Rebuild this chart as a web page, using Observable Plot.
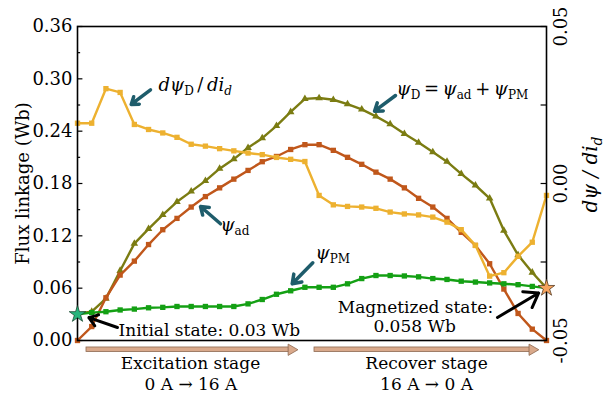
<!DOCTYPE html>
<html>
<head>
<meta charset="utf-8">
<script src="https://cdn.jsdelivr.net/npm/d3@7"></script>
<script src="https://cdn.jsdelivr.net/npm/@observablehq/plot@0.6"></script>
<style>
  html, body { margin: 0; padding: 0; background: white; }
</style>
</head>
<body>
<div id="chart"></div>
<script>
// Step index: excitation 0 A -> 16 A (steps 0..16), recovery 16 A -> 0 A (steps 17..33)
const current = [0,1,2,3,4,5,6,7,8,9,10,11,12,13,14,15,16,16,15,14,13,12,11,10,9,8,7,6,5,4,3,2,1,0];
const step = current.map((_, i) => i);

// Flux linkage (Wb), left axis
const psiD  = [0.031,0.033,0.048,0.080,0.111,0.128,0.144,0.159,0.171,0.183,0.197,0.208,0.221,0.232,0.246,0.262,0.277,0.278,0.276,0.271,0.265,0.257,0.248,0.237,0.227,0.216,0.205,0.191,0.178,0.163,0.126,0.098,0.078,0.060];
const psiAd = [0.000,0.016,0.049,0.075,0.091,0.110,0.127,0.140,0.153,0.165,0.175,0.185,0.195,0.205,0.211,0.219,0.2245,0.2245,0.218,0.210,0.202,0.193,0.185,0.175,0.163,0.153,0.140,0.124,0.109,0.088,0.059,0.031,0.013,0.000];
const psiPM = [0.030,0.032,0.033,0.035,0.036,0.0375,0.038,0.039,0.039,0.039,0.039,0.039,0.042,0.047,0.053,0.057,0.061,0.061,0.061,0.065,0.071,0.0745,0.0745,0.074,0.073,0.071,0.070,0.068,0.067,0.066,0.065,0.064,0.062,0.060];
// dψD/did, right axis
const dPsi  = [0.0192,0.0192,0.0302,0.0290,0.0188,0.0172,0.0161,0.0147,0.0125,0.0119,0.0111,0.0104,0.0097,0.0092,0.0083,0.0077,0.0070,-0.0038,-0.0068,-0.0073,-0.0075,-0.0079,-0.0091,-0.0097,-0.0100,-0.0107,-0.0123,-0.0147,-0.0197,-0.0295,-0.0284,-0.0232,-0.0187,-0.0038];

const leftTicks = [0, 0.06, 0.12, 0.18, 0.24, 0.30, 0.36];
const leftMinor = [0.03, 0.09, 0.15, 0.21, 0.27, 0.33];
const rightTicks = [-0.05, -0.025, 0, 0.025, 0.05];
const rightLabels = [-0.05, 0, 0.05];

const rightDomain = [-0.05, 0.05];
const leftDomain = [0, 0.36];
const toLeft = r => leftDomain[0] + (r - rightDomain[0]) / (rightDomain[1] - rightDomain[0]) * (leftDomain[1] - leftDomain[0]);

const colors = { D: "#7b7c12", ad: "#c0571b", PM: "#14a014", d: "#edb130" };
const teal = "#1e5c6b";
const serif = "DejaVu Serif";

const rows = step.map(i => ({ i, psiD: psiD[i], psiAd: psiAd[i], psiPM: psiPM[i], dPsi: toLeft(dPsi[i]) }));

// Annotations (data units)
const notesStart = [
  { x: 2.885, y: 0.0046, text: "Initial state: 0.03 Wb" }
];
const notesMid = [
  { x: 23.78, y: 0.0315, text: "Magnetized state:" },
  { x: 23.72, y: 0.0098, text: "0.058 Wb" }
];
const stageText = [
  { x: 7.95, y: -0.0327, text: "Excitation stage" },
  { x: 7.98, y: -0.0573, text: "0 A \u2192 16 A" },
  { x: 24.56, y: -0.0327, text: "Recover stage" },
  { x: 24.56, y: -0.0573, text: "16 A \u2192 0 A" }
];
const richLabels = [
  { x: 5.70, y: 0.2866, key: "R1" },
  { x: 22.45, y: 0.2809, key: "R2" },
  { x: 10.06, y: 0.125, key: "R3" },
  { x: 16.75, y: 0.094, key: "R4" }
];
const richHTML = {
  R1: '<tspan font-style="italic">dψ</tspan><tspan font-size="12" dy="4">D</tspan><tspan dy="-4">\u2009/\u2009</tspan><tspan font-style="italic">di</tspan><tspan font-style="italic" font-size="12" dy="4">d</tspan>',
  R2: '<tspan font-style="italic">ψ</tspan><tspan font-size="12" dy="4">D</tspan><tspan dy="-4">\u2009=\u2009</tspan><tspan font-style="italic">ψ</tspan><tspan font-size="12" dy="4">ad</tspan><tspan dy="-4">\u2009+\u2009</tspan><tspan font-style="italic">ψ</tspan><tspan font-size="12" dy="4">PM</tspan>',
  R3: '<tspan font-style="italic">ψ</tspan><tspan font-size="12" dy="4">ad</tspan>',
  R4: '<tspan font-style="italic">ψ</tspan><tspan font-size="12" dy="4">PM</tspan>',
  R5: '<tspan font-style="italic">dψ / di</tspan><tspan font-style="italic" font-size="14" dy="5">d</tspan>'
};
const tealArrows = [
  { x1: 5.137, y1: 0.2874, x2: 3.779, y2: 0.2706 },
  { x1: 22.375, y1: 0.2809, x2: 20.90, y2: 0.2629 },
  { x1: 10.06, y1: 0.1338, x2: 8.655, y2: 0.1536 },
  { x1: 16.556, y1: 0.0891, x2: 15.107, y2: 0.0650 }
];
const blackArrows = [
  { x1: 2.815, y1: 0.0149, x2: 0.80, y2: 0.0262 },
  { x1: 29.55, y1: 0.0264, x2: 32.45, y2: 0.0545 }
];
const stageShafts = [
  { x1: 0.633, x2: 14.9, y1: -0.0080, y2: -0.0132 },
  { x1: 16.676, x2: 31.85, y1: -0.0080, y2: -0.0132 }
];
const stageHeads = [
  { x: 15.05, y: -0.0106 },
  { x: 32.0, y: -0.0106 }
];
const stars = [
  { x: 0, y: psiPM[0], fill: "#27b47c", stroke: "#1d4d33" },
  { x: 33, y: psiPM[33], fill: "#f6a35e", stroke: "#5a3f26" }
];

const plot = Plot.plot({
  width: 610,
  height: 393,
  marginLeft: 77,
  marginRight: 64,
  marginTop: 26,
  marginBottom: 53,
  x: { domain: [0, 33], axis: null },
  y: { domain: leftDomain, axis: null },
  style: { fontFamily: serif, fontSize: "18px", background: "white", color: "black" },
  marks: [
    // series
    Plot.line(rows, { x: "i", y: "psiD", stroke: colors.D, strokeWidth: 2.4 }),
    Plot.dot(rows, { x: "i", y: "psiD", symbol: "triangle", r: 2.8, fill: colors.D }),
    Plot.line(rows, { x: "i", y: "psiAd", stroke: colors.ad, strokeWidth: 2.4 }),
    Plot.dot(rows, { x: "i", y: "psiAd", symbol: "square", r: 3, fill: colors.ad }),
    Plot.line(rows, { x: "i", y: "dPsi", stroke: colors.d, strokeWidth: 2.4 }),
    Plot.dot(rows, { x: "i", y: "dPsi", symbol: "square", r: 3, fill: colors.d }),
    Plot.line(rows, { x: "i", y: "psiPM", stroke: colors.PM, strokeWidth: 2.4 }),
    Plot.dot(rows, { x: "i", y: "psiPM", symbol: "square", r: 3, fill: colors.PM }),
    // frame & axes
    Plot.frame({ stroke: "black", strokeWidth: 1.6 }),
    Plot.ruleY(leftTicks, { y: d => d, x1: 0, x2: 0.38, stroke: "black", strokeWidth: 1.2 }),
    Plot.ruleY(leftMinor, { y: d => d, x1: 0, x2: 0.22, stroke: "black", strokeWidth: 1.2 }),
    Plot.ruleY(rightTicks, { y: d => toLeft(d), x1: 33 - 0.38, x2: 33, stroke: "black", strokeWidth: 1.2 }),
    Plot.axisY({ ticks: leftTicks, tickSize: 0, tickPadding: 5, tickFormat: d3.format(".2f"), label: null, fontSize: 18, fontFamily: serif }),
    Plot.text(rightLabels, { y: d => toLeft(d), frameAnchor: "right", text: d => d3.format(".2f")(d).replace("\u2212", "-"), rotate: -90, dx: 15, textAnchor: "middle", lineAnchor: "middle", fontSize: 18, fontFamily: serif }),
    Plot.text(["Flux linkage (Wb)"], { frameAnchor: "left", dx: -54, rotate: -90, textAnchor: "middle", lineAnchor: "middle", fontSize: 18, fontFamily: serif }),
    Plot.text(["R5"], { frameAnchor: "right", dx: 44, dy: -9, rotate: -90, textAnchor: "middle", lineAnchor: "middle", fontSize: 20, fontFamily: serif }),
    // stars
    Plot.dot(stars, { x: "x", y: "y", symbol: "star", r: 5.2, fill: d => d.fill, stroke: d => d.stroke, strokeWidth: 0.8 }),
    // annotation arrows
    Plot.arrow(tealArrows, { x1: "x1", y1: "y1", x2: "x2", y2: "y2", stroke: teal, strokeWidth: 3.5, headLength: 9, headAngle: 70 }),
    Plot.arrow(blackArrows, { x1: "x1", y1: "y1", x2: "x2", y2: "y2", stroke: "black", strokeWidth: 3, headLength: 9, headAngle: 70 }),
    // stage arrows
    Plot.rect(stageShafts, { x1: "x1", x2: "x2", y1: "y1", y2: "y2", fill: "#d9a98b", stroke: "#8e6a52", strokeWidth: 0.8 }),
    Plot.dot(stageHeads, { x: "x", y: "y", symbol: "triangle", rotate: 90, r: 4.2, fill: "#d9a98b", stroke: "#8e6a52", strokeWidth: 0.8 }),
    // text annotations
    Plot.text(notesStart, { x: "x", y: "y", text: "text", textAnchor: "start", lineAnchor: "bottom", fontSize: 17, fontFamily: serif }),
    Plot.text(notesMid, { x: "x", y: "y", text: "text", textAnchor: "middle", lineAnchor: "bottom", fontSize: 17, fontFamily: serif }),
    Plot.text(stageText, { x: "x", y: "y", text: "text", textAnchor: "middle", lineAnchor: "bottom", fontSize: 17, fontFamily: serif }),
    Plot.text(richLabels, { x: "x", y: "y", text: "key", textAnchor: "start", lineAnchor: "bottom", fontSize: 18, fontFamily: serif })
  ]
});

// Post-process rich labels (sub-/superscripts) into tspans
d3.select(plot).selectAll("text").each(function () {
  const t = this.textContent;
  if (richHTML[t]) this.innerHTML = richHTML[t];
});
document.getElementById("chart").appendChild(plot);
</script>
</body>
</html>
